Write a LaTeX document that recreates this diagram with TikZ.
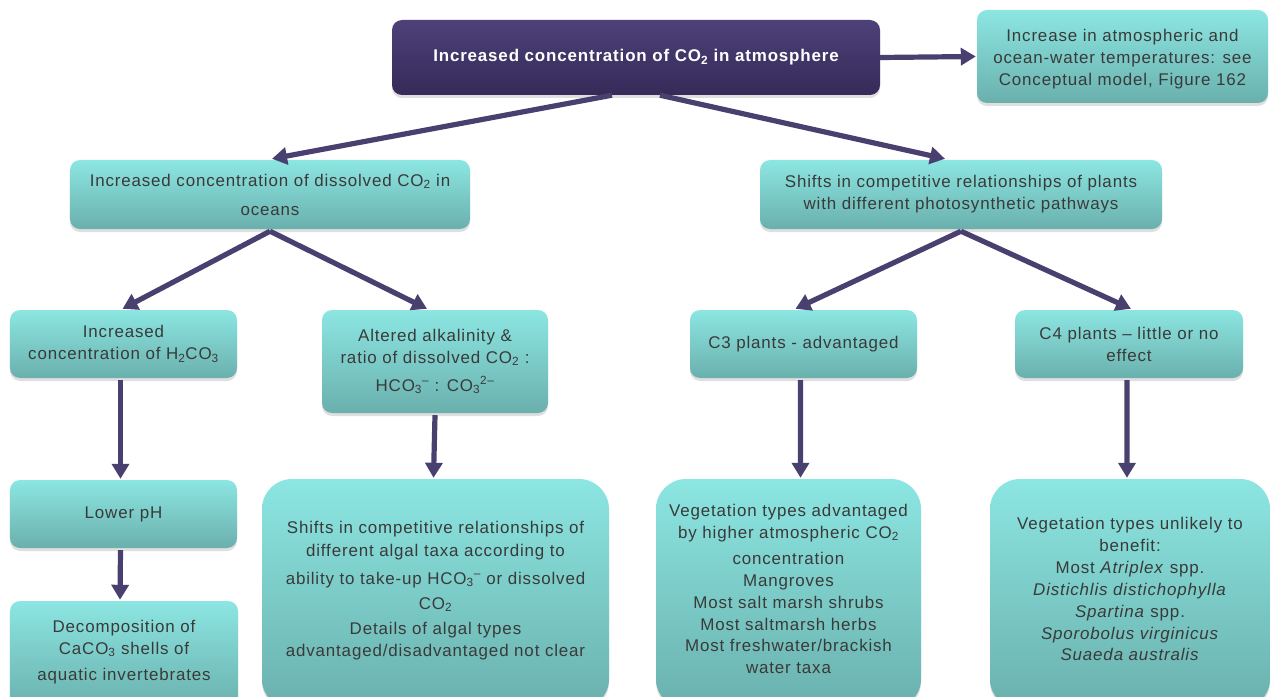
\documentclass[tikz,border=0pt]{standalone}
\usepackage{fontspec}
\setmainfont{Liberation Sans}[LetterSpace=5]
\usetikzlibrary{arrows.meta,shadows}
\definecolor{boxtop}{HTML}{8CE6E2}
\definecolor{boxbot}{HTML}{6AB0AD}
\definecolor{headtop}{HTML}{4D4178}
\definecolor{headbot}{HTML}{352A58}
\definecolor{linkc}{HTML}{4A4070}
\definecolor{txt}{HTML}{3A3A3A}
\tikzset{
  x=1bp, y=-1bp,
  base/.style={rectangle, rounded corners=10bp, align=center, inner sep=2bp,
    font=\fontsize{17}{22}\selectfont, text=txt,
    drop shadow={shadow xshift=0bp, shadow yshift=-3bp, opacity=0.25}},
  tealbox/.style={base, top color=boxtop, bottom color=boxbot, draw=none},
  bigbox/.style={tealbox, rounded corners=30bp},
  headbox/.style={base, top color=headtop, bottom color=headbot, text=white,
    font=\fontsize{17}{20}\selectfont\bfseries},
  link/.style={line width=5.2bp, draw=linkc, line cap=butt,
    -{Triangle[length=15bp,width=17bp]}},
}
% empty trailing line that lifts a centred text block a little
\newcommand{\liftby}[1]{\\[#1]\mbox{}}
\begin{document}
\begin{tikzpicture}
\useasboundingbox (0,0) rectangle (1271,697);

% nodes
\node[headbox, minimum width=488bp, minimum height=75bp] (top) at (636,57.5)
  {Increased concentration of CO\textsubscript{2} in atmosphere};
\node[tealbox, minimum width=291bp, minimum height=93bp] (temp) at (1122.5,56.5)
  {\mbox{}\\[-4bp]Increase in atmospheric and\\ocean-water temperatures: see\\Conceptual model, Figure 162};
\node[tealbox, minimum width=400bp, minimum height=69bp] (diss) at (270,194.5)
  {Increased concentration of dissolved CO\textsubscript{2} in\\[7bp]oceans};
\node[tealbox, minimum width=402bp, minimum height=69bp] (comp) at (961,194.5)
  {Shifts in competitive relationships of plants\\with different photosynthetic pathways};
\node[tealbox, minimum width=227bp, minimum height=68bp] (acid) at (123.5,344)
  {Increased\\concentration of H\textsubscript{2}CO\textsubscript{3}};
\node[tealbox, minimum width=226bp, minimum height=103bp] (alk) at (435,361.5)
  {Altered alkalinity \&\\ratio of dissolved CO\textsubscript{2} :\\[6bp]HCO\textsubscript{3}\textsuperscript{--} : CO\textsubscript{3}\textsuperscript{2--}};
\node[tealbox, minimum width=227bp, minimum height=68bp] (cthree) at (803.5,344)
  {C3 plants - advantaged};
\node[tealbox, minimum width=228bp, minimum height=68bp] (cfour) at (1129,344)
  {C4 plants -- little or no\\effect};
\node[tealbox, minimum width=227bp, minimum height=68bp] (ph) at (123.5,514)
  {Lower pH};
\node[tealbox, minimum width=228bp, minimum height=108bp] (shell) at (124,655)
  {Decomposition of\\CaCO\textsubscript{3} shells of\\[4bp]aquatic invertebrates\liftby{-12bp}};
\node[bigbox, minimum width=347bp, minimum height=230bp] (algae) at (435.5,594)
  {Shifts in competitive relationships of\\[1bp]different algal taxa according to\\[6bp]ability to take-up HCO\textsubscript{3}\textsuperscript{--} or dissolved\\[3bp]CO\textsubscript{2}\\[3bp]Details of algal types\\[1bp]advantaged/disadvantaged not clear\liftby{-12bp}};
\node[bigbox, minimum width=265bp, minimum height=230bp] (vegplus) at (788.5,594)
  {Vegetation types advantaged\\by higher atmospheric CO\textsubscript{2}\\[4bp]concentration\\Mangroves\\Most salt marsh shrubs\\Most saltmarsh herbs\\Most freshwater/brackish\\water taxa\liftby{-12bp}};
\node[bigbox, minimum width=280bp, minimum height=230bp] (vegnil) at (1130,594)
  {Vegetation types unlikely to\\benefit:\\Most \textit{Atriplex} spp.\\\textit{Distichlis distichophylla}\\\textit{Spartina} spp.\\\textit{Sporobolus virginicus}\\\textit{Suaeda australis}\liftby{-12bp}};

% connectors
\draw[link] (top.east) -- ([xshift=-1bp]temp.west);
\draw[link] ([xshift=-24bp]top.south) -- ([xshift=2bp,yshift=1bp]diss.north);
\draw[link] ([xshift=24bp]top.south) -- ([xshift=-16bp,yshift=1bp]comp.north);
\draw[link] ([yshift=-2bp]diss.south) -- ([xshift=-1bp,yshift=1bp]acid.north);
\draw[link] ([yshift=-2bp]diss.south) -- ([xshift=-8bp,yshift=1bp]alk.north);
\draw[link] ([yshift=-2bp]comp.south) -- ([xshift=-8bp,yshift=1bp]cthree.north);
\draw[link] ([yshift=-2bp]comp.south) -- ([xshift=2bp,yshift=1bp]cfour.north);
\draw[link] ([xshift=-3bp,yshift=-2bp]acid.south) -- ([xshift=-3bp,yshift=1bp]ph.north);
\draw[link] ([xshift=-3bp,yshift=-2bp]ph.south) -- ([xshift=-4bp,yshift=1bp]shell.north);
\draw[link] ([yshift=-2bp]alk.south) -- ([xshift=-2bp,yshift=1bp]algae.north);
\draw[link] ([xshift=-3bp,yshift=-2bp]cthree.south) -- ([xshift=12bp,yshift=1bp]vegplus.north);
\draw[link] ([xshift=-2bp,yshift=-2bp]cfour.south) -- ([xshift=-3bp,yshift=1bp]vegnil.north);
\end{tikzpicture}
\end{document}
